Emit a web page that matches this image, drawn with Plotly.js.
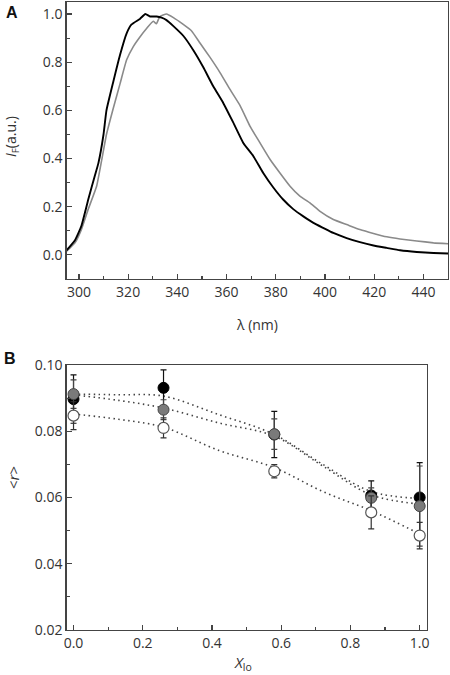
<!DOCTYPE html>
<html><head><meta charset="utf-8">
<script src="https://cdn.plot.ly/plotly-3.0.1.min.js"></script>
<style>html,body{margin:0;padding:0;background:#fff}#chart{width:450px;height:675px}</style>
</head><body><div id="chart"></div>
<script>
// Panel A: fluorescence spectra
const wlBlack = [295,298.4,301,303.8,306.5,307.9,310,311.2,314,316.7,319.4,321.4,324.8,327,328.9,331.6,333.6,335.6,338.4,342.4,346.5,350.5,354.6,358.7,362.7,366.8,370.9,374.9,379,383,387.1,391.2,395.3,399.3,403.4,408.8,414.2,419.7,425.1,430.5,437.3,444.1,450];
const ifBlack = [0.019,0.061,0.12,0.23,0.33,0.38,0.50,0.60,0.72,0.83,0.92,0.957,0.98,1.0,0.99,0.99,0.985,0.975,0.95,0.91,0.85,0.78,0.70,0.63,0.55,0.465,0.41,0.34,0.28,0.23,0.19,0.16,0.133,0.112,0.091,0.07,0.053,0.039,0.029,0.019,0.012,0.008,0.006];
const wlGray = [295,298.4,301,303.8,307.2,309.2,311.2,314,316.7,319.4,322.1,324.8,327.5,330.2,331.5,332.9,335.6,338.4,342.4,345.8,349.2,353.3,357.4,361.4,365.5,369.5,373.6,377.7,381.7,385.8,389.8,393.9,398,403.4,408.8,414.2,419.7,425.1,430.5,437.3,444.1,450];
const ifGray = [0.015,0.05,0.105,0.19,0.285,0.39,0.50,0.61,0.71,0.81,0.865,0.905,0.94,0.97,0.96,0.99,1.0,0.985,0.957,0.93,0.88,0.82,0.756,0.687,0.62,0.535,0.465,0.396,0.34,0.285,0.244,0.216,0.181,0.147,0.126,0.105,0.089,0.075,0.066,0.058,0.05,0.046];

// Panel B: anisotropy vs X_lo
const xlo = [0, 0.26, 0.58, 0.86, 1.0];
const rBlack = [0.0897, 0.0931, 0.0790, 0.0606, 0.0600];
const eBlack = [0.0073, 0.0054, 0.0070, 0.0044, 0.0105];
const rGray = [0.0912, 0.0865, 0.0791, 0.0599, 0.0574];
const eGray = [0.0043, 0.0030, 0.0046, 0.0030, 0.0121];
const rWhite = [0.0847, 0.0810, 0.0679, 0.0555, 0.0485];
const eWhite = [0.0042, 0.0030, 0.0020, 0.0050, 0.0040];
// fitted (dotted) curves
const xFit = [0, 0.13, 0.26, 0.42, 0.58, 0.72, 0.86, 1.0];
const fitBlack = [0.0912, 0.0910, 0.0906, 0.0850, 0.0790, 0.0700, 0.0618, 0.0597];
const fitGray = [0.0910, 0.0893, 0.0870, 0.0825, 0.0785, 0.0695, 0.0608, 0.0580];
const fitWhite = [0.0852, 0.0836, 0.0812, 0.0742, 0.0690, 0.0618, 0.0560, 0.0490];

const tickFont = {family: 'Open Sans, DejaVu Sans, sans-serif', size: 14, color: '#333'};
const axisCommon = {
  showline: true, linecolor: '#444', linewidth: 1.3, mirror: true,
  ticks: 'inside', ticklen: 5, tickcolor: '#444', tickwidth: 1.2,
  showgrid: false, zeroline: false, tickfont: tickFont
};
const fitLine = {color: '#444', width: 1.6, dash: '1.5px,3.5px', shape: 'spline'};

const traces = [
  {x: wlGray, y: ifGray, mode: 'lines', line: {color: '#8a8a8a', width: 1.6, shape: 'spline', smoothing: 0.4}, xaxis: 'x', yaxis: 'y'},
  {x: wlBlack, y: ifBlack, mode: 'lines', line: {color: '#000', width: 1.9, shape: 'spline', smoothing: 0.4}, xaxis: 'x', yaxis: 'y'},
  {x: xFit, y: fitBlack, mode: 'lines', line: fitLine, xaxis: 'x2', yaxis: 'y2'},
  {x: xFit, y: fitGray, mode: 'lines', line: fitLine, xaxis: 'x2', yaxis: 'y2'},
  {x: xFit, y: fitWhite, mode: 'lines', line: fitLine, xaxis: 'x2', yaxis: 'y2'},
  {x: xlo, y: rBlack, mode: 'markers', marker: {size: 11, color: '#000', line: {color: '#000', width: 1}},
   error_y: {type: 'data', array: eBlack, color: '#111', thickness: 1.2, width: 3}, xaxis: 'x2', yaxis: 'y2'},
  {x: xlo, y: rGray, mode: 'markers', marker: {size: 11, color: '#7a7a7a', line: {color: '#444', width: 1}},
   error_y: {type: 'data', array: eGray, color: '#444', thickness: 1.2, width: 3}, xaxis: 'x2', yaxis: 'y2'},
  {x: xlo, y: rWhite, mode: 'markers', marker: {size: 11, color: '#fff', line: {color: '#555', width: 1.2}},
   error_y: {type: 'data', array: eWhite, color: '#333', thickness: 1.2, width: 3}, xaxis: 'x2', yaxis: 'y2'}
];

const layout = {
  width: 450, height: 675, showlegend: false,
  paper_bgcolor: '#fff', plot_bgcolor: '#fff',
  margin: {l: 0, r: 0, t: 0, b: 0},
  xaxis: Object.assign({}, axisCommon, {domain: [0.148, 0.9956], anchor: 'y', range: [295, 450], tickvals: [300,320,340,360,380,400,420,440],
    minor: {ticks: 'inside', ticklen: 3, dtick: 10, tick0: 300, tickcolor: '#444'}}),
  yaxis: Object.assign({}, axisCommon, {domain: [0.5867, 0.997], anchor: 'x', range: [-0.1, 1.05], tick0: 0, dtick: 0.2, tickformat: '.1f',
    minor: {ticks: 'inside', ticklen: 3, dtick: 0.1, tick0: 0, tickcolor: '#444'}}),
  xaxis2: Object.assign({}, axisCommon, {domain: [0.148, 0.948], anchor: 'y2', range: [-0.02, 1.02], tick0: 0, dtick: 0.2, tickformat: '.1f',
    minor: {ticks: 'inside', ticklen: 3, dtick: 0.1, tick0: 0, tickcolor: '#444'}}),
  yaxis2: Object.assign({}, axisCommon, {domain: [0.0667, 0.4593], anchor: 'x2', range: [0.02, 0.10], tick0: 0.02, dtick: 0.02, tickformat: '.2f',
    minor: {ticks: 'inside', ticklen: 3, dtick: 0.01, tick0: 0.02, tickcolor: '#444'}}),
  annotations: [
    {text: '<b>A</b>', xref: 'paper', yref: 'paper', x: 4/450, y: 1 - 12/675, xanchor: 'left', yanchor: 'middle', showarrow: false,
     font: {family: 'Liberation Sans, Arial, sans-serif', size: 16, color: '#111'}},
    {text: '<b>B</b>', xref: 'paper', yref: 'paper', x: 2/450, y: 1 - 358/675, xanchor: 'left', yanchor: 'middle', showarrow: false,
     font: {family: 'Liberation Sans, Arial, sans-serif', size: 16, color: '#111'}},
    {text: 'λ (nm)', xref: 'paper', yref: 'paper', x: 257/450, y: 1 - 325/675, xanchor: 'center', yanchor: 'middle', showarrow: false, font: tickFont},
    {text: '<i>I</i><sub>F</sub>(a.u.)', xref: 'paper', yref: 'paper', x: 11/450, y: 1 - 137/675, xanchor: 'center', yanchor: 'middle', textangle: -90, showarrow: false, font: tickFont},
    {text: '<i>X</i><sub>lo</sub>', xref: 'paper', yref: 'paper', x: 243/450, y: 1 - 663/675, xanchor: 'center', yanchor: 'middle', showarrow: false, font: {family: tickFont.family, size: 15, color: '#333'}},
    {text: '&lt;<i>r</i>&gt;', xref: 'paper', yref: 'paper', x: 13/450, y: 1 - 478/675, xanchor: 'center', yanchor: 'middle', textangle: -90, showarrow: false, font: {family: tickFont.family, size: 15, color: '#333'}}
  ]
};

Plotly.newPlot('chart', traces, layout, {displayModeBar: false, staticPlot: true});
</script>
</body></html>
